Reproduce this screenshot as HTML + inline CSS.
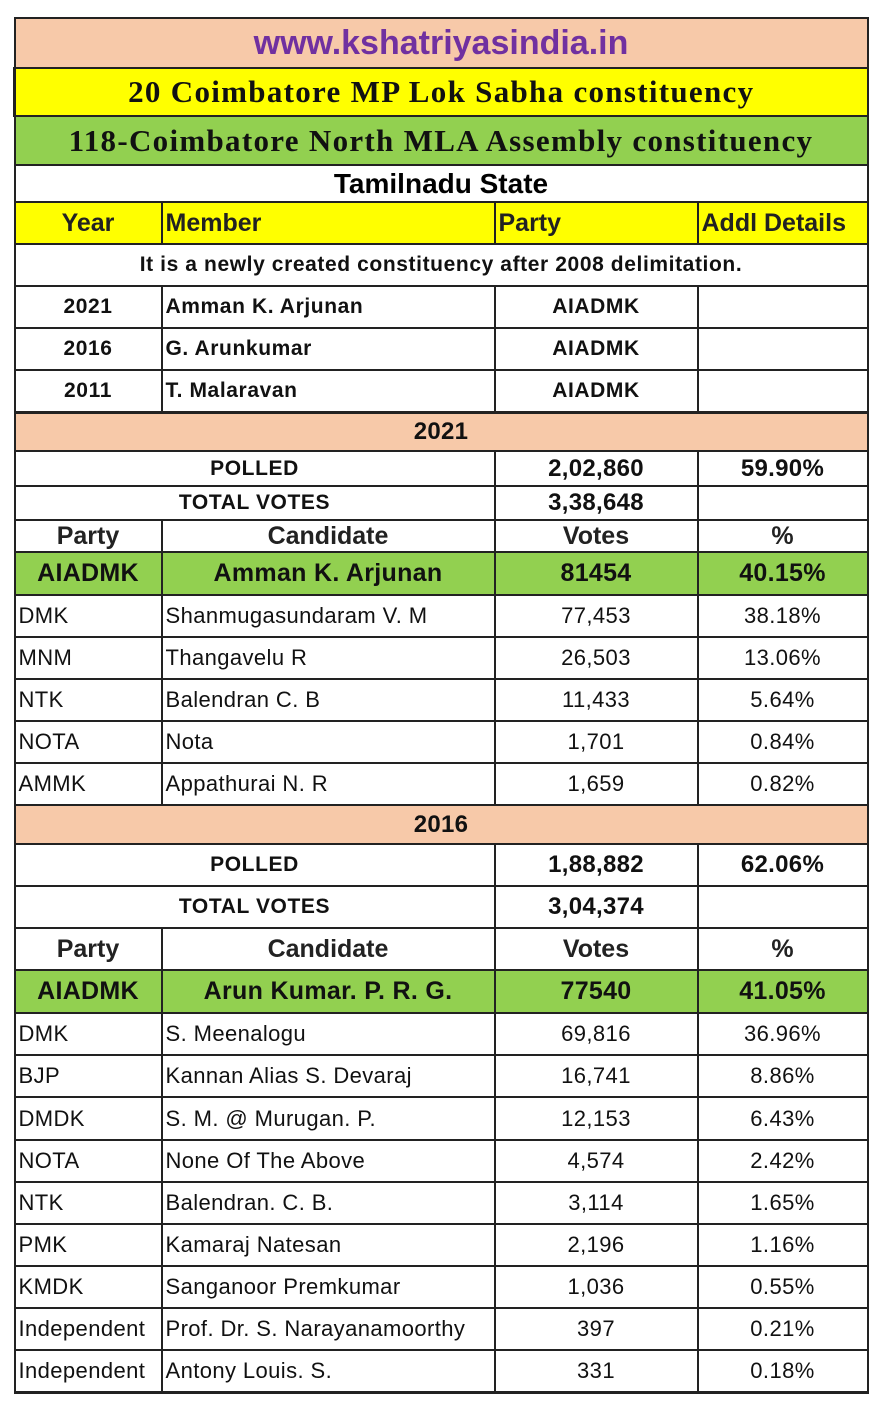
<!DOCTYPE html>
<html><head><meta charset="utf-8"><style>
body{margin:0;background:#fff;width:880px;height:1419px;overflow:hidden;font-family:"Liberation Sans",sans-serif;}
table{position:absolute;left:13px;top:17px;width:853px;border-collapse:collapse;table-layout:fixed;}
td{border:2px solid #222;padding:0 3px;font-size:22px;letter-spacing:0.4px;color:#111;white-space:nowrap;overflow:hidden;}
.c{text-align:center}.b{font-weight:bold;font-size:21px;letter-spacing:0.6px}
.pe{background:#f7c9a9}.ye{background:#ffff00}.gr{background:#92d050}
.ser{font-family:"Liberation Serif",serif;font-weight:bold;font-size:31px;letter-spacing:1.3px;text-align:center}
.h{font-size:25px;font-weight:bold;color:#222;letter-spacing:0}
.big{font-size:24px;font-weight:bold;letter-spacing:0.3px}
.g{font-size:25px;font-weight:bold;letter-spacing:0.3px}
</style></head><body>
<table>
<colgroup><col style="width:147px"><col style="width:333px"><col style="width:203px"><col style="width:170px"></colgroup>
<tr style="height:50px"><td colspan="4" class="pe c" style="font-size:34px;font-weight:bold;color:#7030a0;letter-spacing:0">www.kshatriyasindia.in</td></tr>
<tr style="height:48px"><td colspan="4" class="ye ser" style="border-left-width:3px">20 Coimbatore MP Lok Sabha constituency</td></tr>
<tr style="height:49px"><td colspan="4" class="gr ser">118-Coimbatore North MLA Assembly constituency</td></tr>
<tr style="height:37px"><td colspan="4" class="c h" style="font-size:28px;color:#000">Tamilnadu State</td></tr>
<tr style="height:42px" class="ye"><td class="c h">Year</td><td class="h">Member</td><td class="h">Party</td><td class="h">Addl Details</td></tr>
<tr style="height:42px"><td colspan="4" class="c b">It is a newly created constituency after 2008 delimitation.</td></tr>
<tr style="height:42px"><td class="c b">2021</td><td class="b">Amman K. Arjunan</td><td class="c b">AIADMK</td><td></td></tr>
<tr style="height:42px"><td class="c b">2016</td><td class="b">G. Arunkumar</td><td class="c b">AIADMK</td><td></td></tr>
<tr style="height:42px"><td class="c b">2011</td><td class="b">T. Malaravan</td><td class="c b">AIADMK</td><td></td></tr>
<tr style="height:39px"><td colspan="4" class="pe c big" style="border-top-width:3px">2021</td></tr>
<tr style="height:35px"><td colspan="2" class="c b">POLLED</td><td class="c big">2,02,860</td><td class="c big">59.90%</td></tr>
<tr style="height:34px"><td colspan="2" class="c b">TOTAL VOTES</td><td class="c big">3,38,648</td><td></td></tr>
<tr style="height:32px"><td class="c h">Party</td><td class="c h">Candidate</td><td class="c h">Votes</td><td class="c h">%</td></tr>
<tr style="height:43px" class="gr"><td class="c g">AIADMK</td><td class="c g">Amman K. Arjunan</td><td class="c g">81454</td><td class="c g">40.15%</td></tr>
<tr style="height:42px"><td>DMK</td><td>Shanmugasundaram V. M</td><td class="c">77,453</td><td class="c">38.18%</td></tr>
<tr style="height:42px"><td>MNM</td><td>Thangavelu R</td><td class="c">26,503</td><td class="c">13.06%</td></tr>
<tr style="height:42px"><td>NTK</td><td>Balendran C. B</td><td class="c">11,433</td><td class="c">5.64%</td></tr>
<tr style="height:42px"><td>NOTA</td><td>Nota</td><td class="c">1,701</td><td class="c">0.84%</td></tr>
<tr style="height:42px"><td>AMMK</td><td>Appathurai N. R</td><td class="c">1,659</td><td class="c">0.82%</td></tr>
<tr style="height:39px"><td colspan="4" class="pe c big">2016</td></tr>
<tr style="height:42px"><td colspan="2" class="c b">POLLED</td><td class="c big">1,88,882</td><td class="c big">62.06%</td></tr>
<tr style="height:42px"><td colspan="2" class="c b">TOTAL VOTES</td><td class="c big">3,04,374</td><td></td></tr>
<tr style="height:42px"><td class="c h">Party</td><td class="c h">Candidate</td><td class="c h">Votes</td><td class="c h">%</td></tr>
<tr style="height:43px" class="gr"><td class="c g">AIADMK</td><td class="c g">Arun Kumar. P. R. G.</td><td class="c g">77540</td><td class="c g">41.05%</td></tr>
<tr style="height:42px"><td>DMK</td><td>S. Meenalogu</td><td class="c">69,816</td><td class="c">36.96%</td></tr>
<tr style="height:42px"><td>BJP</td><td>Kannan Alias S. Devaraj</td><td class="c">16,741</td><td class="c">8.86%</td></tr>
<tr style="height:43px"><td>DMDK</td><td>S. M. @ Murugan. P.</td><td class="c">12,153</td><td class="c">6.43%</td></tr>
<tr style="height:42px"><td>NOTA</td><td>None Of The Above</td><td class="c">4,574</td><td class="c">2.42%</td></tr>
<tr style="height:42px"><td>NTK</td><td>Balendran. C. B.</td><td class="c">3,114</td><td class="c">1.65%</td></tr>
<tr style="height:42px"><td>PMK</td><td>Kamaraj Natesan</td><td class="c">2,196</td><td class="c">1.16%</td></tr>
<tr style="height:42px"><td>KMDK</td><td>Sanganoor Premkumar</td><td class="c">1,036</td><td class="c">0.55%</td></tr>
<tr style="height:42px"><td>Independent</td><td>Prof. Dr. S. Narayanamoorthy</td><td class="c">397</td><td class="c">0.21%</td></tr>
<tr style="height:42px"><td style="border-bottom-width:3px">Independent</td><td style="border-bottom-width:3px">Antony Louis. S.</td><td class="c" style="border-bottom-width:3px">331</td><td class="c" style="border-bottom-width:3px">0.18%</td></tr>
</table>
</body></html>
